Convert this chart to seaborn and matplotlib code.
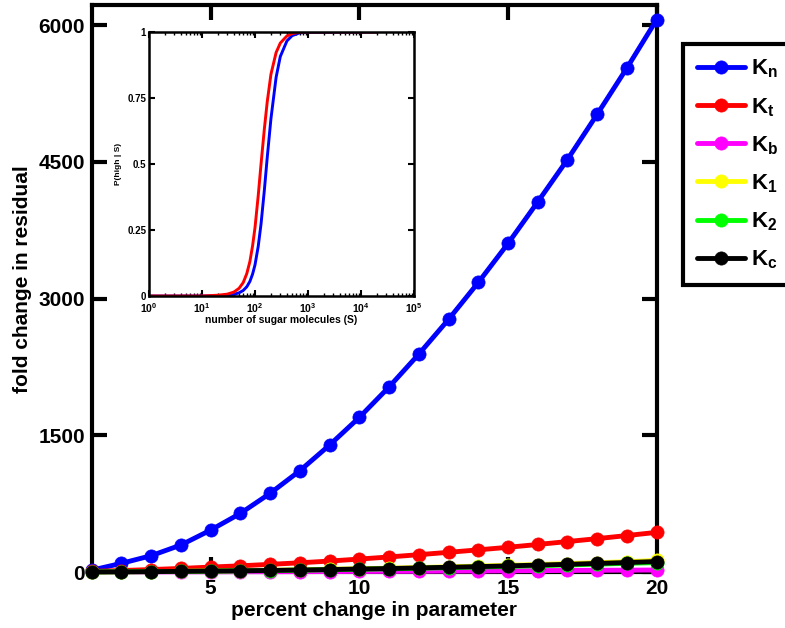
import numpy as np
import pandas as pd
import matplotlib
matplotlib.use("Agg")
import matplotlib.pyplot as plt
import seaborn as sns

# ---------------- data ----------------
pct_change = [1, 2, 3, 4, 5, 6, 7, 8, 9, 10, 11, 12, 13, 14, 15, 16, 17, 18, 19, 20]
K_n = [20, 95, 179, 296, 460, 643, 863, 1111, 1393, 1696, 2030, 2390, 2771, 3176,
       3604, 4060, 4525, 5022, 5530, 6060]
K_t = [7, 16, 27, 39, 54, 68, 84, 101, 120, 142, 165, 190, 216, 243, 271, 302, 334,
       366, 400, 435]
K_b = [0, 1, 1, 2, 2, 3, 3, 4, 5, 6, 7, 8, 10, 11, 13, 15, 17, 19, 20, 22]
K_1 = [1, 3, 5, 8, 11, 15, 19, 24, 30, 36, 42, 49, 57, 65, 73, 82, 92, 102, 113, 127]
K_2 = [1, 2, 4, 7, 9, 12, 16, 20, 25, 30, 35, 41, 48, 54, 61, 69, 77, 86, 95, 103]
K_c = [1, 2, 4, 7, 10, 14, 17, 22, 27, 33, 38, 45, 52, 59, 67, 76, 84, 94, 104, 115]

series_names = ["K_n", "K_t", "K_b", "K_1", "K_2", "K_c"]
series_labels = [r"$\mathbf{K_n}$", r"$\mathbf{K_t}$", r"$\mathbf{K_b}$",
                 r"$\mathbf{K_1}$", r"$\mathbf{K_2}$", r"$\mathbf{K_c}$"]
series_colors = ["#0000ff", "#ff0000", "#ff00ff", "#ffff00", "#00ff00", "#000000"]

x_ticks = [5, 10, 15, 20]
y_ticks = [0, 1500, 3000, 4500, 6000]

# inset: P(high | S) curves
S_values = [1, 10, 20, 30, 40, 50, 60, 70, 80, 90, 100, 115, 130, 150, 170, 200, 250,
            300, 400, 500, 700, 1000, 20000]
P_red = [0.0, 0.0, 0.003, 0.007, 0.015, 0.029, 0.051, 0.085, 0.130, 0.190, 0.259,
         0.380, 0.500, 0.632, 0.735, 0.840, 0.922, 0.958, 0.985, 0.994, 0.999, 1.0, 1.0]
P_blue = [0.0, 0.0, 0.001, 0.003, 0.006, 0.012, 0.021, 0.035, 0.055, 0.083, 0.118,
          0.188, 0.273, 0.400, 0.524, 0.672, 0.828, 0.907, 0.966, 0.986, 0.997, 0.999, 1.0]
inset_yticks = [0, 0.25, 0.5, 0.75, 1]
inset_yticklabels = ["0", "0.25", "0.5", "0.75", "1"]

# ---------------- style ----------------
sns.set_style("ticks")
plt.rcParams["font.family"] = ["Liberation Sans", "DejaVu Sans"]
plt.rcParams["font.weight"] = "bold"
plt.rcParams["mathtext.fontset"] = "custom"
plt.rcParams["mathtext.rm"] = "Liberation Sans:bold"
plt.rcParams["mathtext.bf"] = "Liberation Sans:bold"
plt.rcParams["mathtext.it"] = "Liberation Sans:bold"
for k in ["axes.edgecolor", "xtick.color", "ytick.color", "text.color",
          "axes.labelcolor"]:
    plt.rcParams[k] = "black"

fig = plt.figure(figsize=(7.85, 6.28), dpi=100)
W, H = 785.0, 628.0
ax = fig.add_axes([91.7 / W, 1 - 572 / H, (656.7 - 91.7) / W, (572 - 5) / H])

long = pd.DataFrame({
    "x": pct_change * 6,
    "y": K_n + K_t + K_b + K_1 + K_2 + K_c,
    "series": sum([[n] * len(pct_change) for n in series_names], []),
})

for name, lab, col in zip(series_names, series_labels, series_colors):
    sub = long[long["series"] == name]
    sns.lineplot(data=sub, x="x", y="y", ax=ax, color=col, linewidth=3.5,
                 marker="o", markersize=9.5, markeredgecolor=col,
                 markeredgewidth=0.5, label=lab, clip_on=False, zorder=3)

ax.set_xlim(1, 20)
ax.set_ylim(0, 6220)
ax.set_xticks(x_ticks)
ax.set_yticks(y_ticks)
ax.set_xticklabels([str(t) for t in x_ticks])
ax.set_yticklabels([str(t) for t in y_ticks])
ax.tick_params(axis="both", which="major", direction="in", length=11, width=3,
               labelsize=15, top=True, right=True, pad=5)
for lab in ax.get_xticklabels() + ax.get_yticklabels():
    lab.set_fontweight("bold")
for sp in ax.spines.values():
    sp.set_linewidth(3)
    sp.set_visible(True)
ax.set_xlabel("percent change in parameter", fontsize=15, fontweight="bold", labelpad=2)
ax.set_ylabel("fold change in residual", fontsize=15, fontweight="bold")
ax.yaxis.set_label_coords(-0.105, 0.517)

# legend
handles, labels = ax.get_legend_handles_labels()
ax.get_legend().remove()
leg = fig.legend(handles, labels, loc="upper left",
                 bbox_to_anchor=(683 / W, 1 - 44 / H), fontsize=16,
                 handlelength=2.15, handletextpad=0.3, labelspacing=0.7,
                 borderpad=0.62, borderaxespad=0.0, frameon=True, fancybox=False,
                 framealpha=1.0)
leg.get_frame().set_edgecolor("black")
leg.get_frame().set_linewidth(3)

# inset
axi = fig.add_axes([149 / W, 1 - 296 / H, 265 / W, 264 / H])
axi.set_facecolor("white")
ins = pd.DataFrame({"S": S_values, "blue": P_blue, "red": P_red})
sns.lineplot(data=ins, x="S", y="blue", ax=axi, color="#0000ff", linewidth=2.1)
sns.lineplot(data=ins, x="S", y="red", ax=axi, color="#ff0000", linewidth=2.1)
axi.set_xscale("log")
axi.set_xlim(1, 1e5)
axi.set_ylim(0, 1)
axi.set_yticks(inset_yticks)
axi.set_yticklabels(inset_yticklabels)
axi.tick_params(axis="both", which="major", direction="in", length=4, width=1.5,
                labelsize=7, top=True, right=True, pad=2)
axi.tick_params(axis="x", which="major", labelsize=7.5, pad=4)
axi.tick_params(axis="x", which="minor", direction="in", length=2.5, width=1,
                top=True, bottom=True)
for lab in axi.get_xticklabels() + axi.get_yticklabels():
    lab.set_fontweight("bold")
for sp in axi.spines.values():
    sp.set_linewidth(1.8)
    sp.set_visible(True)
axi.set_xlabel("number of sugar molecules (S)", fontsize=7.5, fontweight="bold", labelpad=0)
axi.set_ylabel("P(high | S)", fontsize=6, fontweight="bold", labelpad=4)

fig.savefig("out.png", dpi=100)
